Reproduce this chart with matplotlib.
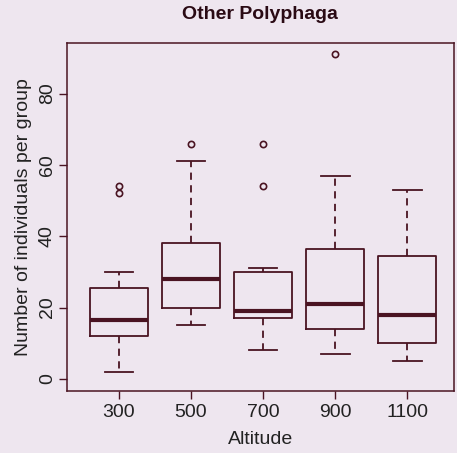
import matplotlib
matplotlib.use('Agg')
import matplotlib.pyplot as plt

altitudes = ['300', '500', '700', '900', '1100']
whisker_low = [2, 15, 8, 7, 5]
q1 = [12, 20, 17, 14, 10]
median = [16.5, 28, 19, 21, 18]
q3 = [25.5, 38, 30, 36.5, 34.5]
whisker_high = [30, 61, 31, 57, 53]
outliers = [[52, 54], [66], [54, 66], [91], []]

ink = '#4a1422'
bg = '#eee6ef'

plt.rcParams['font.family'] = ['Liberation Sans', 'DejaVu Sans']

stats = []
for i, name in enumerate(altitudes):
    stats.append({
        'label': name,
        'whislo': whisker_low[i], 'q1': q1[i], 'med': median[i],
        'q3': q3[i], 'whishi': whisker_high[i], 'fliers': outliers[i],
    })

fig = plt.figure(figsize=(4.57, 4.53), dpi=100, facecolor=bg)
ax = fig.add_axes([0.1466, 0.1369, 0.8468, 0.7682])
ax.set_facecolor(bg)

ax.bxp(
    stats, positions=range(1, 6), widths=0.8, patch_artist=False,
    boxprops={'color': ink, 'linewidth': 1.3},
    medianprops={'color': ink, 'linewidth': 3},
    whiskerprops={'color': ink, 'linewidth': 1.3, 'linestyle': (0, (4, 3))},
    capprops={'color': ink, 'linewidth': 1.3},
    capwidths=0.4,
    flierprops={'marker': 'o', 'markersize': 4.5, 'markerfacecolor': 'none',
                'markeredgecolor': ink, 'markeredgewidth': 1.2},
)

ax.set_xlim(0.278, 5.65)
ax.set_ylim(-3.4, 94.2)
ax.set_yticks([0, 20, 40, 60, 80])
ax.set_xticks(range(1, 6))
ax.set_xticklabels(altitudes)
ax.tick_params(axis='both', colors=ink, labelcolor='#222222', labelsize=14,
               length=6, width=1, direction='out')
ax.tick_params(axis='y', labelrotation=90, pad=2)
for lab in ax.get_yticklabels():
    lab.set_va('center')
for s in ax.spines.values():
    s.set_color(ink)
    s.set_linewidth(1.1)

ax.set_xlabel('Altitude', fontsize=14, color='#222222', labelpad=7)
ax.set_ylabel('Number of individuals per group', fontsize=14, color='#222222',
              labelpad=5)
fig.text(0.569, 0.967, 'Other Polyphaga', ha='center', va='center',
         fontsize=14, fontweight='bold', color='#2a0a14')

fig.savefig('out.png', dpi=100, facecolor=bg)
